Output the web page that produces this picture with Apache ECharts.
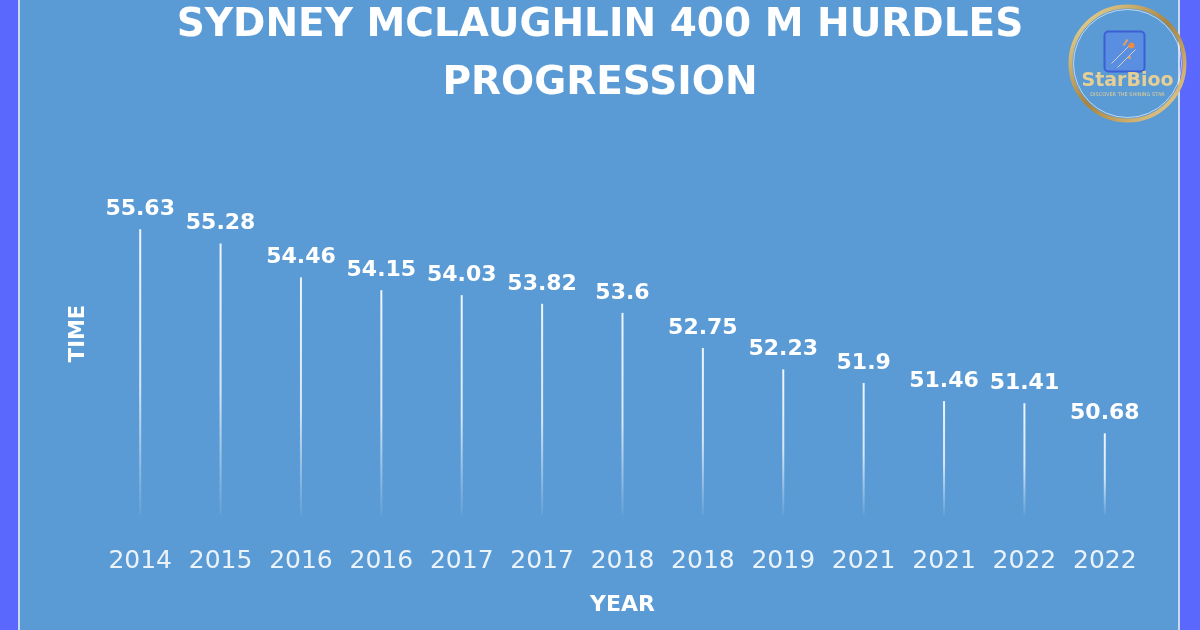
<!DOCTYPE html>
<html>
<head>
<meta charset="utf-8">
<script src="https://cdn.jsdelivr.net/npm/echarts@6/dist/echarts.min.js"></script>
<style>
  html, body { margin: 0; padding: 0; background: #5b9bd5; }
  #chart { width: 1200px; height: 630px; }
</style>
</head>
<body>
<div id="chart"></div>
<script>
// race years (as labelled on the chart) and season-best times in seconds
const years = ['2014', '2015', '2016', '2016', '2017', '2017', '2018', '2018', '2019', '2021', '2021', '2022', '2022']
const times = [55.63, 55.28, 54.46, 54.15, 54.03, 53.82, 53.6, 52.75, 52.23, 51.9, 51.46, 51.41, 50.68]

const chart = echarts.init(document.getElementById('chart'))

const option = {
    backgroundColor: '#5b9bd5',
    title: {
        text: 'SYDNEY MCLAUGHLIN 400 M HURDLES\nPROGRESSION',
        left: 'center',
        top: -8,
        textStyle: {
            color: '#ffffff',
            fontFamily: 'DejaVu Sans',
            fontWeight: 'bold',
            fontSize: 39,
            lineHeight: 58,
        },
    },
    grid: {
        left: 100,
        right: 55,
        top: 152,
        bottom: 115,
    },
    xAxis: {
        type: 'category',
        data: years,
        name: 'YEAR',
        nameLocation: 'middle',
        nameGap: 79,
        nameTextStyle: {
            color: '#ffffff',
            fontFamily: 'DejaVu Sans',
            fontWeight: 'bold',
            fontSize: 22,
        },
        axisLine: { show: false },
        axisTick: { show: false },
        axisLabel: {
            interval: 0,
            hideOverlap: false,
            margin: 34,
            color: 'rgba(255,255,255,0.88)',
            fontFamily: 'DejaVu Sans',
            fontSize: 25,
        },
    },
    yAxis: {
        type: 'value',
        min: 48.7,
        max: 57.5,
        name: 'TIME',
        nameLocation: 'middle',
        nameGap: 11,
        nameTextStyle: {
            color: '#ffffff',
            fontFamily: 'DejaVu Sans',
            fontWeight: 'bold',
            fontSize: 21,
        },
        axisLine: { show: false },
        axisTick: { show: false },
        axisLabel: { show: false },
        splitLine: { show: false },
    },
    series: [
        {
            type: 'bar',
            data: times,
            barWidth: 2,
            itemStyle: {
                color: new echarts.graphic.LinearGradient(0, 0, 0, 1, [
                    { offset: 0, color: 'rgba(255,255,255,0.9)' },
                    { offset: 0.55, color: 'rgba(255,255,255,0.75)' },
                    { offset: 1, color: 'rgba(255,255,255,0.05)' },
                ]),
            },
            label: {
                show: true,
                position: 'top',
                distance: 9,
                color: '#ffffff',
                fontFamily: 'DejaVu Sans',
                fontWeight: 'bold',
                fontSize: 22,
            },
        },
    ],
    graphic: [
        // side strips of the framed picture
        { type: 'rect', left: 0, top: 0, shape: { width: 18, height: 630 }, style: { fill: '#5a68fd' } },
        { type: 'rect', left: 18, top: 0, shape: { width: 2, height: 630 }, style: { fill: '#c9d9f2' } },
        { type: 'rect', left: 1180, top: 0, shape: { width: 20, height: 630 }, style: { fill: '#5a68fd' } },
        { type: 'rect', left: 1178, top: 0, shape: { width: 2, height: 630 }, style: { fill: '#c9d9f2' } },
        // StarBioo badge
        {
            type: 'group',
            left: 1068,
            top: 4,
            children: [
                {
                    type: 'circle',
                    shape: { cx: 58, cy: 58, r: 57 },
                    style: {
                        fill: 'none',
                        lineWidth: 4,
                        stroke: new echarts.graphic.LinearGradient(0, 0, 1, 1, [
                            { offset: 0, color: '#f3e2a6' },
                            { offset: 0.5, color: '#a9833c' },
                            { offset: 1, color: '#f0d89a' },
                        ]),
                    },
                },
                {
                    type: 'circle',
                    shape: { cx: 58, cy: 58, r: 54 },
                    style: { fill: 'none', lineWidth: 1, stroke: 'rgba(255,255,255,0.6)' },
                },
                {
                    type: 'rect',
                    shape: { x: 35, y: 26, width: 40, height: 40, r: 4 },
                    style: { fill: '#5a8ee0', stroke: '#3d5fd6', lineWidth: 2 },
                },
                { type: 'line', shape: { x1: 42, y1: 58, x2: 62, y2: 38 }, style: { stroke: '#d9d2c0', lineWidth: 1 } },
                { type: 'line', shape: { x1: 48, y1: 62, x2: 66, y2: 44 }, style: { stroke: '#d9d2c0', lineWidth: 1 } },
                { type: 'line', shape: { x1: 58, y1: 34, x2: 54, y2: 40 }, style: { stroke: '#e2a25a', lineWidth: 2 } },
                { type: 'circle', shape: { cx: 62, cy: 40, r: 3 }, style: { fill: '#f08a3c' } },
                { type: 'circle', shape: { cx: 60, cy: 52, r: 1.5 }, style: { fill: '#e2a25a' } },
                {
                    type: 'text',
                    style: {
                        x: 58, y: 76, text: 'StarBioo', align: 'center', verticalAlign: 'middle',
                        fill: '#e5cf96', font: 'bold 19px "DejaVu Sans"',
                    },
                },
                {
                    type: 'text',
                    style: {
                        x: 58, y: 89, text: 'DISCOVER THE SHINING STAR', align: 'center', verticalAlign: 'middle',
                        fill: '#e5cf96', font: '5px "DejaVu Sans"',
                    },
                },
            ],
        },
    ],
}

chart.setOption(option)
</script>
</body>
</html>
